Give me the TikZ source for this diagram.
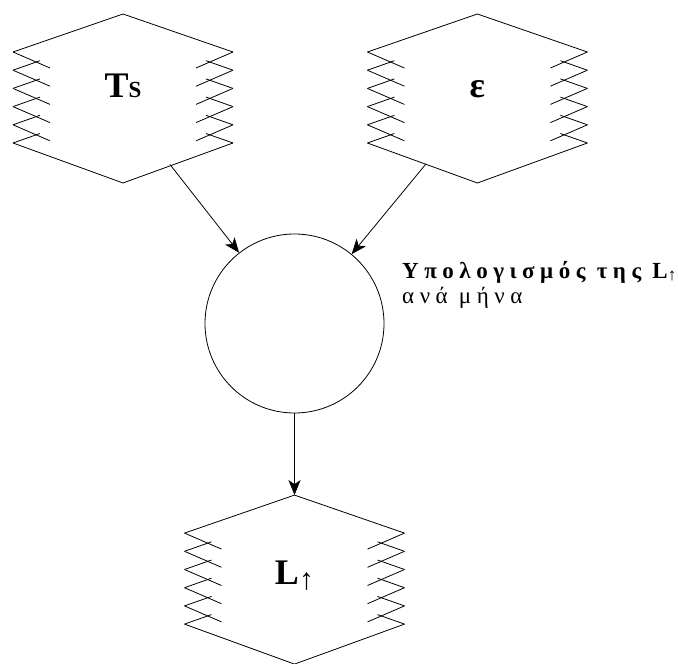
\documentclass[tikz,border=0pt]{standalone}
\usepackage{fontspec}
\setmainfont{Liberation Serif}
\usetikzlibrary{arrows.meta,positioning}

\newcommand{\storeshape}[1]{%
  \draw[storeline] ([shift={(-110,-46.5)}]#1.center) -- ([shift={(0,-84.5)}]#1.center)
    -- ([shift={(110,-46.5)}]#1.center);
  \draw[storeline] ([shift={(-110,44.5)}]#1.center) -- ([shift={(0,84.5)}]#1.center)
    -- ([shift={(110,44.5)}]#1.center);
  \foreach \k in {0,...,4}{
    \draw[storeline] ([shift={(-110,-46.5+18.2*\k)}]#1.center) -- ++(37,16);
    \draw[storeline] ([shift={(110,-46.5+18.2*\k)}]#1.center) -- ++(-37,16);
  }
  \foreach \k in {1,...,5}{
    \draw[storeline] ([shift={(-110,-46.5+18.2*\k)}]#1.center) -- ++(27,-9.5);
    \draw[storeline] ([shift={(110,-46.5+18.2*\k)}]#1.center) -- ++(-27,-9.5);
  }
}

\begin{document}
\begin{tikzpicture}[x=1pt,y=-1pt,
  store/.style={minimum width=220pt,minimum height=169pt,inner sep=0pt,
    font=\fontsize{36}{36}\selectfont\bfseries},
  storeline/.style={line width=0.8pt},
  process/.style={draw,circle,minimum size=179pt,inner sep=0pt,line width=0.8pt},
  arrow/.style={-{Stealth[length=15pt,width=12pt,inset=4pt]},line width=0.8pt}
]
  \useasboundingbox (0,0) rectangle (678,664);
  \node[store,text height=0pt,text depth=3pt] (ts) at (123,98.5)
    {T{\fontsize{23}{23}\selectfont S}};
  \node[store,right=134pt of ts,text height=0pt,text depth=3pt] (eps) {ε};
  \node[process] (calc) at (294.5,323.5) {};
  \node[store,below=81.5pt of calc,text height=10pt,text depth=0pt] (lup)
    {L{\fontsize{30}{30}\selectfont\mdseries\raisebox{-5pt}{↑}}};
  \node[anchor=north west,align=left,inner sep=0pt,
    font=\fontsize{23}{25}\selectfont\addfontfeatures{LetterSpace=24}] (calctext) at (402,261)
    {\textbf{Υπολογισμός της L{\fontsize{17}{17}\selectfont\mdseries\raisebox{-2pt}{↑}}}\\ανά μήνα};

  \storeshape{ts}
  \storeshape{eps}
  \storeshape{lup}

  \coordinate (ts-out) at ([shift={(47,66)}]ts.center);
  \coordinate (eps-out) at ([shift={(-51.5,65.5)}]eps.center);
  \coordinate (lup-in) at ([shift={(0,-84.5)}]lup.center);

  \draw[arrow] (ts-out) -- (calc);
  \draw[arrow] (eps-out) -- (calc);
  \draw[arrow] (calc) -- (lup-in);
\end{tikzpicture}
\end{document}
